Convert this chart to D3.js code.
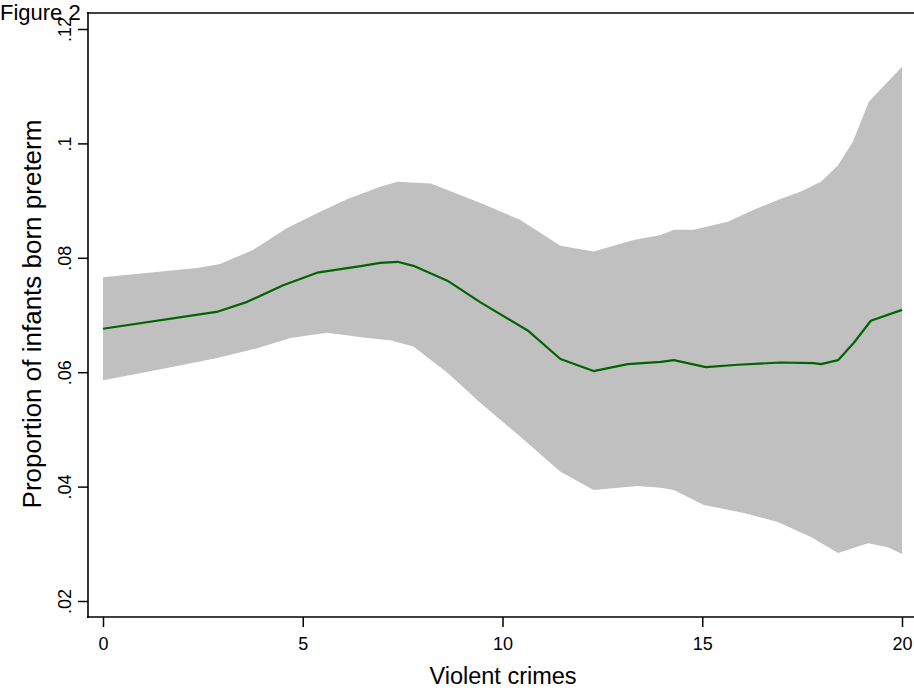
<!DOCTYPE html>
<html>
<head>
<meta charset="utf-8">
<script src="https://cdn.jsdelivr.net/npm/d3@7"></script>
<style>
  body { margin: 0; background: #fff; }
  text { font-family: "Liberation Sans", Arial, sans-serif; fill: #000; }
</style>
</head>
<body>
<div id="plot"></div>
<script>
// values
var fitX = [0, 2.88, 3.61, 4.51, 5.36, 6.49, 6.94, 7.37, 7.77, 8.62, 9.45, 10.63, 11.45, 12.28, 13.13, 13.96, 14.29, 15.09, 15.89, 16.97, 17.79, 17.97, 18.40, 18.80, 19.22, 20];
var fitY = [.0676, .0706, .0723, .0752, .0774, .0786, .0791, .0793, .0786, .0760, .0722, .0673, .0623, .0602, .0614, .0618, .0621, .0609, .0613, .0617, .0616, .0614, .0621, .0652, .0690, .0709];

var upperX = [0, 2.36, 2.93, 3.76, 4.61, 5.36, 6.12, 6.94, 7.37, 8.20, 9.45, 10.45, 11.45, 12.28, 13.28, 13.96, 14.29, 14.79, 15.64, 16.29, 16.89, 17.47, 17.97, 18.40, 18.77, 19.17, 20];
var upperY = [.0766, .0782, .0789, .0814, .0852, .0878, .0903, .0924, .0933, .0930, .0896, .0866, .0821, .0811, .0831, .0840, .0849, .0849, .0863, .0884, .0901, .0916, .0933, .0962, .1003, .1073, .1134];

var lowerX = [0, 1.35, 2.86, 3.86, 4.69, 5.61, 6.62, 7.19, 7.77, 8.62, 9.45, 10.45, 11.45, 12.28, 13.38, 13.96, 14.29, 15.04, 16.04, 16.89, 17.72, 18.40, 19.15, 19.65, 20];
var lowerY = [.0586, .0604, .0625, .0642, .0660, .0669, .0660, .0656, .0645, .0599, .0546, .0487, .0426, .0394, .0401, .0398, .0394, .0368, .0354, .0338, .0312, .0284, .0301, .0294, .0282];

var xTicks = [0, 5, 10, 15, 20];
var yTicks = [.02, .04, .06, .08, .1, .12];
var yTickLabels = [".02", ".04", ".06", ".08", ".1", ".12"];

var svgWidth = 914;
var svgHeight = 691;

var svg = d3.select("#plot")
  .append("svg")
  .attr("width", svgWidth)
  .attr("height", svgHeight);

var xScale = d3.scaleLinear().domain([0, 20]).range([103, 902]);
var yScale = d3.scaleLinear().domain([.02, .12]).range([601, 29]);

// confidence band: upper edge then lower edge backwards
var bandPts = upperX.map((x, i) => [x, upperY[i]])
  .concat(lowerX.map((x, i) => [x, lowerY[i]]).reverse());

svg.append("path")
  .datum(bandPts)
  .attr("fill", "#c0c0c0")
  .attr("d", d3.line().x(d => xScale(d[0])).y(d => yScale(d[1])).curve(d3.curveLinearClosed));

svg.append("path")
  .datum(fitX.map((x, i) => [x, fitY[i]]))
  .attr("fill", "none")
  .attr("stroke", "#006400")
  .attr("stroke-width", 2.2)
  .attr("stroke-linejoin", "round")
  .attr("d", d3.line().x(d => xScale(d[0])).y(d => yScale(d[1])));

// axes
var bottomAxis = d3.axisBottom(xScale)
  .tickValues(xTicks)
  .tickSize(10)
  .tickSizeOuter(0)
  .tickPadding(10);

var leftAxis = d3.axisLeft(yScale)
  .tickValues(yTicks)
  .tickFormat((d, i) => yTickLabels[i])
  .tickSize(10)
  .tickSizeOuter(0);

var xg = svg.append("g")
  .attr("transform", "translate(0, 617)")
  .call(bottomAxis);

var yg = svg.append("g")
  .attr("transform", "translate(88, 0)")
  .call(leftAxis);

[xg, yg].forEach(g => {
  g.select(".domain").remove();
  g.selectAll(".tick line").attr("stroke", "#000").attr("stroke-width", 1.5);
  g.selectAll(".tick text").style("font-size", "18px").style("font-family", "'Liberation Sans', Arial, sans-serif").attr("fill", "#000");
});

yg.selectAll(".tick text")
  .attr("x", null)
  .attr("dy", null)
  .attr("text-anchor", "middle")
  .attr("transform", "translate(-17, 0) rotate(-90)");

// frame lines
svg.append("line")
  .attr("x1", 88).attr("x2", 88).attr("y1", 12).attr("y2", 618)
  .attr("stroke", "#000").attr("stroke-width", 1.6);
svg.append("line")
  .attr("x1", 87).attr("x2", 914).attr("y1", 13).attr("y2", 13)
  .attr("stroke", "#000").attr("stroke-width", 1.6);
svg.append("line")
  .attr("x1", 87).attr("x2", 914).attr("y1", 617).attr("y2", 617)
  .attr("stroke", "#000").attr("stroke-width", 1.6);

// titles
svg.append("text")
  .attr("x", 503)
  .attr("y", 684)
  .attr("text-anchor", "middle")
  .style("font-size", "23.5px")
  .text("Violent crimes");

svg.append("text")
  .attr("transform", "translate(41, 314) rotate(-90)")
  .attr("text-anchor", "middle")
  .style("font-size", "26px")
  .text("Proportion of infants born preterm");

svg.append("text")
  .attr("x", 0)
  .attr("y", 20)
  .style("font-size", "22px")
  .text("Figure 2");
</script>
</body>
</html>
